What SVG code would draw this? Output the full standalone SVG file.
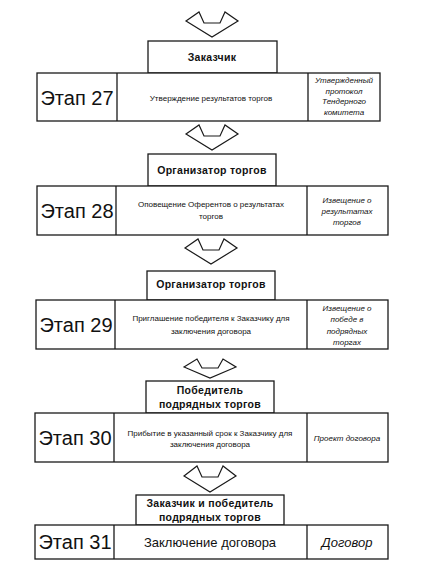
<svg xmlns="http://www.w3.org/2000/svg" width="430" height="584" viewBox="0 0 430 584">
<style>
  .box{fill:#fff;stroke:#1a1a1a;stroke-width:1.3}
  .arr{fill:#fff;stroke:#1a1a1a;stroke-width:1.2;stroke-linejoin:miter}
  text{font-family:"Liberation Sans",Arial,sans-serif;fill:#111;text-anchor:middle}
  .hd{font-size:10.5px;font-weight:bold;letter-spacing:0.3px}
  .st{font-size:20px}
  .md{font-size:8px}
  .rt{font-size:8px;font-style:italic}
  .mdl{font-size:13px}
  .rtl{font-size:13px;font-style:italic}
</style>
<rect width="430" height="584" fill="#fff"/>
<g id="connectors">
  <path class="arr" d="M186,21 L199,12 L204,23 L220,23 L225,12 L238,21 L212,37 Z"/>
  <path class="arr" d="M186,134 L199,125 L204,136 L220,136 L225,125 L238,134 L212,150 Z"/>
  <path class="arr" d="M185,248 L198,239 L203,250 L219,250 L224,239 L237,248 L211,264 Z"/>
  <path class="arr" d="M184,367 L197,359 L202,368 L218,368 L223,359 L236,367 L210,378 Z"/>
  <path class="arr" d="M184,476 L197,466 L202,477 L218,477 L223,466 L236,476 L210,492 Z"/>
</g>
<g id="stage27">
  <rect class="box" x="148" y="41" width="129" height="32"/>
  <text class="hd" x="212" y="61">Заказчик</text>
  <rect class="box" x="37" y="73" width="343" height="48"/>
  <line class="box" x1="117" y1="73" x2="117" y2="121"/>
  <line class="box" x1="308" y1="73" x2="308" y2="121"/>
  <text class="st" x="77" y="104.5">Этап 27</text>
  <text class="md" x="211" y="100.5">Утверждение результатов торгов</text>
  <text class="rt" x="344"><tspan x="344" y="83">Утвержденный</tspan><tspan x="344" y="93.5">протокол</tspan><tspan x="344" y="104">Тендерного</tspan><tspan x="344" y="115">комитета</tspan></text>
</g>
<g id="stage28">
  <rect class="box" x="148" y="154" width="128" height="32"/>
  <text class="hd" x="212" y="174">Организатор торгов</text>
  <rect class="box" x="37" y="186" width="351" height="49"/>
  <line class="box" x1="116" y1="186" x2="116" y2="235"/>
  <line class="box" x1="307" y1="186" x2="307" y2="235"/>
  <text class="st" x="77" y="218">Этап 28</text>
  <text class="md"><tspan x="211" y="207">Оповещение Оферентов о результатах</tspan><tspan x="211" y="219">торгов</tspan></text>
  <text class="rt"><tspan x="347" y="203">Извещение о</tspan><tspan x="347" y="214">результатах</tspan><tspan x="347" y="224.5">торгов</tspan></text>
</g>
<g id="stage29">
  <rect class="box" x="147" y="271" width="128" height="29"/>
  <text class="hd" x="211" y="288">Организатор торгов</text>
  <rect class="box" x="36" y="300" width="352" height="49"/>
  <line class="box" x1="115" y1="300" x2="115" y2="349"/>
  <line class="box" x1="307" y1="300" x2="307" y2="349"/>
  <text class="st" x="76" y="332">Этап 29</text>
  <text class="md"><tspan x="211" y="321">Приглашение победителя к Заказчику для</tspan><tspan x="211" y="333.5">заключения договора</tspan></text>
  <text class="rt"><tspan x="347" y="310.5">Извещение о</tspan><tspan x="347" y="322">победе в</tspan><tspan x="347" y="333.5">подрядных</tspan><tspan x="347" y="344.5">торгах</tspan></text>
</g>
<g id="stage30">
  <rect class="box" x="146" y="381" width="128" height="32"/>
  <text class="hd"><tspan x="210" y="394">Победитель</tspan><tspan x="210" y="408">подрядных торгов</tspan></text>
  <rect class="box" x="35" y="413" width="353" height="49"/>
  <line class="box" x1="114" y1="413" x2="114" y2="462"/>
  <line class="box" x1="307" y1="413" x2="307" y2="462"/>
  <text class="st" x="75" y="445">Этап 30</text>
  <text class="md"><tspan x="210" y="435.5">Прибытие в указанный срок к Заказчику для</tspan><tspan x="210" y="447">заключения договора</tspan></text>
  <text class="rt" x="347" y="441">Проект договора</text>
</g>
<g id="stage31">
  <rect class="box" x="136" y="495" width="148" height="30"/>
  <text class="hd"><tspan x="210" y="507">Заказчик и победитель</tspan><tspan x="210" y="521">подрядных торгов</tspan></text>
  <rect class="box" x="35" y="525" width="353" height="34"/>
  <line class="box" x1="114" y1="525" x2="114" y2="559"/>
  <line class="box" x1="307" y1="525" x2="307" y2="559"/>
  <text class="st" x="75" y="549">Этап 31</text>
  <text class="mdl" x="210" y="546.5">Заключение договора</text>
  <text class="rtl" x="347" y="546.5">Договор</text>
</g>
</svg>
